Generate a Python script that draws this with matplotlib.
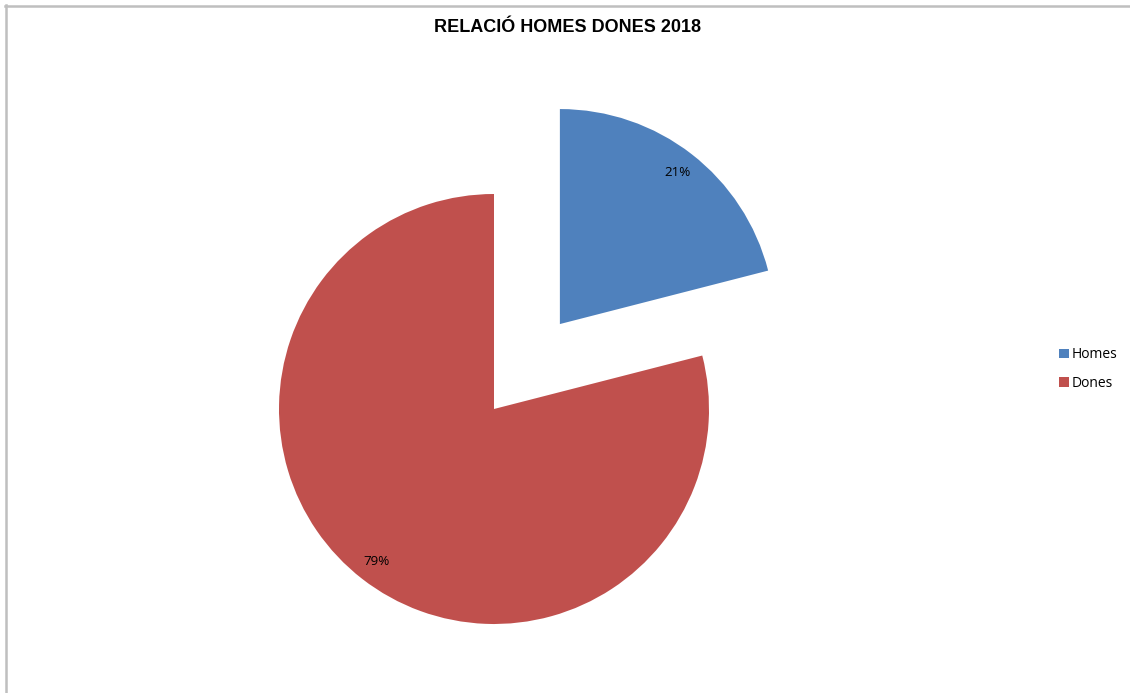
import matplotlib
matplotlib.use("Agg")
import matplotlib.pyplot as plt
from matplotlib.lines import Line2D

# Data
categories = ["Homes", "Dones"]
values = [21, 79]
colors = ["#4F81BD", "#C0504D"]
title = "RELACIÓ HOMES DONES 2018"

W, H = 1130, 693
RADIUS = 215
fig = plt.figure(figsize=(W / 100, H / 100), dpi=100)
fig.patch.set_facecolor("white")

# Axes in pixel-like units covering the whole figure
ax = fig.add_axes([0, 0, 1, 1])

wedges, texts, autotexts = ax.pie(
    values,
    labels=None,
    colors=colors,
    startangle=90,
    counterclock=False,
    explode=[0.5 * RADIUS, 0],   # pie offsets are in data units
    center=(494, H - 409),
    radius=RADIUS,
    autopct="%1.0f%%",
    pctdistance=0.895,
    frame=True,
    wedgeprops=dict(linewidth=0),
    textprops=dict(fontsize=9.6, family=["Open Sans", "DejaVu Sans"], color="black"),
)
ax.set_xlim(0, W)
ax.set_ylim(0, H)
ax.set_aspect("equal")
ax.axis("off")

fig.text(568 / W, 1 - 28 / H, title, ha="center", va="center",
         fontsize=13, fontweight="bold", family=["Liberation Sans", "DejaVu Sans"])

# Chart area border (left and top)
fig.add_artist(Line2D([5.5 / W, 5.5 / W], [0, 1 - 5 / H], color="#BFBFBF", lw=1.8,
                      transform=fig.transFigure))
fig.add_artist(Line2D([5 / W, 1], [1 - 5.5 / H, 1 - 5.5 / H], color="#BFBFBF", lw=1.8,
                      transform=fig.transFigure))

leg = fig.legend(
    wedges, categories,
    loc="center left",
    bbox_to_anchor=(1046 / W, 1 - 369 / H),
    frameon=False,
    handlelength=0.72,
    handleheight=0.72,
    handletextpad=0.25,
    labelspacing=0.95,
    prop=dict(family=["Open Sans", "DejaVu Sans"], size=10),
)

fig.savefig("out.png", dpi=100, facecolor="white")
